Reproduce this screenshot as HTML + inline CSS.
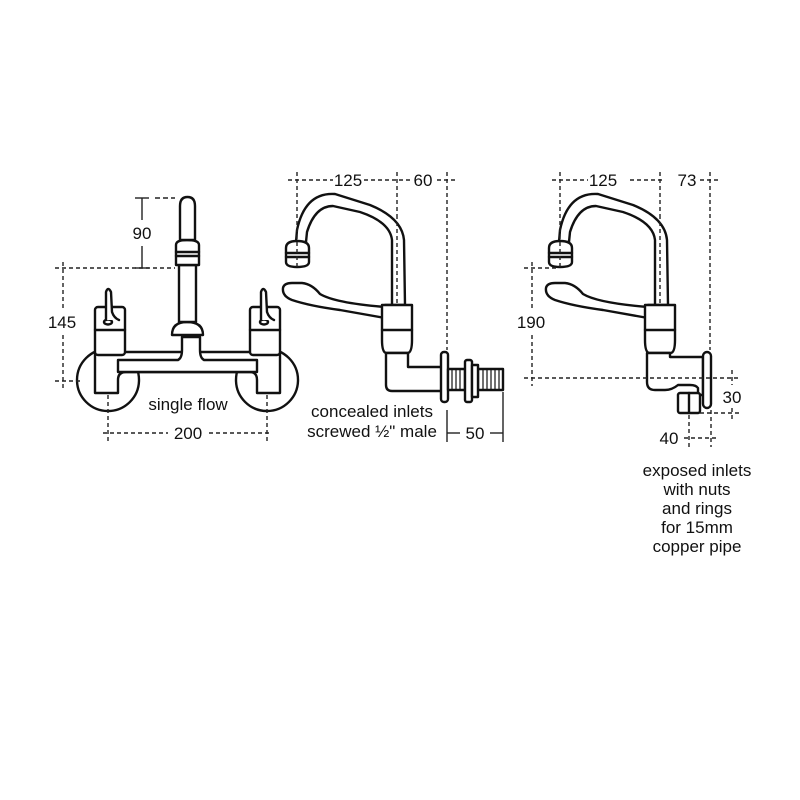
<!DOCTYPE html>
<html><head><meta charset="utf-8"><style>
html,body{margin:0;padding:0;background:#fff;width:800px;height:800px;overflow:hidden}
svg{display:block}
text{font-family:"Liberation Sans",Arial,sans-serif;fill:#111;font-size:17px}
.o{fill:#fff;stroke:#111;stroke-width:2.4;stroke-linejoin:round;stroke-linecap:round}
.n{fill:none;stroke:#111;stroke-width:2.4;stroke-linejoin:round;stroke-linecap:round}
.d{fill:none;stroke:#222;stroke-width:1.4;stroke-dasharray:4 3}
.s{fill:none;stroke:#222;stroke-width:1.4}
</style></head><body>
<svg width="800" height="800" viewBox="0 0 800 800">
<!-- LEFT TAP -->
<circle class="o" cx="108" cy="380" r="31"/>
<circle class="o" cx="267" cy="380" r="31"/>
<path class="o" d="M95 352 L95 393 L118 393 L118 380 Q118 372 126 372 L250 372 Q257 372 257 380 L257 393 L280 393 L280 352 Z"/>
<path class="o" d="M118 360 L178 360 Q182 358 182 350 L182 337 L200 337 L200 350 Q200 358 204 360 L257 360 L257 372 L118 372 Z"/>
<rect class="o" x="95" y="307" width="30" height="48" rx="3"/>
<line class="n" x1="95" y1="330" x2="125" y2="330"/>
<ellipse class="n" cx="108" cy="322" rx="4" ry="2.5"/>
<path class="o" d="M106 320 L106 292 Q108 286 111 292 L112 312 Q114 318 119 320"/>
<rect class="o" x="250" y="307" width="30" height="48" rx="3"/>
<line class="n" x1="250" y1="330" x2="280" y2="330"/>
<ellipse class="n" cx="264" cy="322" rx="4" ry="2.5"/>
<path class="o" d="M261 320 L261 292 Q263 286 266 292 L267 312 Q269 318 274 320"/>
<path class="o" d="M172 335 Q172 322 187 322 Q203 322 203 335 Z"/>
<rect class="o" x="179" y="265" width="17" height="57"/>
<path class="o" d="M176 245 Q176 240 187 240 Q199 240 199 245 L199 265 L176 265 Z"/>
<line class="n" x1="176" y1="252" x2="199" y2="252"/>
<line class="n" x1="176" y1="256" x2="199" y2="256"/>
<path class="o" d="M180 240 L180 206 Q180 197 187.5 197 Q195 197 195 206 L195 240 Z"/>
<!-- left dims -->
<line class="s" x1="142" y1="198" x2="142" y2="220"/><line class="s" x1="142" y1="246" x2="142" y2="268"/>
<line class="s" x1="135" y1="198" x2="149" y2="198"/><line class="s" x1="155" y1="198" x2="175" y2="198" stroke-dasharray="5 3"/>
<line class="d" x1="55" y1="268" x2="175" y2="268"/><line class="s" x1="135" y1="268" x2="149" y2="268"/>
<text x="142" y="239" text-anchor="middle">90</text>
<line class="d" x1="63" y1="262" x2="63" y2="308"/><line class="d" x1="63" y1="335" x2="63" y2="390"/>
<line class="d" x1="55" y1="381" x2="82" y2="381"/>
<text x="62" y="328" text-anchor="middle">145</text>
<line class="d" x1="108" y1="395" x2="108" y2="442"/><line class="d" x1="267" y1="395" x2="267" y2="442"/>
<line class="d" x1="103" y1="433" x2="168" y2="433"/><line class="d" x1="209" y1="433" x2="272" y2="433"/>
<text x="188" y="439" text-anchor="middle">200</text>
<text x="188" y="410" text-anchor="middle">single flow</text>

<defs>
<g id="tap">
<path class="o" d="M385 305 L392 305 L392 240 Q390 222 360 212 L333 206 Q315 206 307 232 L306 242 L296 242 L297 230 Q305 192 335 194 L370 205 Q402 218 404 240 L405 305 Z"/>
<path class="o" d="M286 248 Q286 241 297 241 Q309 241 309 248 L309 262 Q309 267 297 267 Q286 267 286 262 Z"/>
<line class="n" x1="286" y1="253" x2="309" y2="253"/><line class="n" x1="286" y1="257" x2="309" y2="257"/>
<path class="o" d="M385 318 L340 310 Q310 306 292 300 Q282 296 283 288 Q284 283 292 283 L302 283 Q312 284 320 294 Q335 303 385 307 Z"/>
<path class="o" d="M382 305 L412 305 L412 340 Q412 352 408 353 L386 353 Q382 352 382 340 Z"/>
<line class="n" x1="382" y1="330" x2="412" y2="330"/>
<line class="d" x1="397" y1="215" x2="397" y2="304"/>
</g>
</defs>
<use href="#tap"/>
<path class="o" d="M386 353 L386 385 Q386 391 392 391 L442 391 L442 367 L408 367 L408 353 Z"/>
<rect class="o" x="441" y="352" width="7" height="50" rx="3"/>
<rect class="o" x="448" y="369" width="17" height="21"/>
<rect class="o" x="478" y="369" width="25" height="21"/>
<g stroke="#111" stroke-width="1.2">
<line x1="452" y1="369" x2="452" y2="390"/><line x1="456" y1="369" x2="456" y2="390"/><line x1="460" y1="369" x2="460" y2="390"/>
<line x1="483" y1="369" x2="483" y2="390"/><line x1="487" y1="369" x2="487" y2="390"/><line x1="491" y1="369" x2="491" y2="390"/><line x1="495" y1="369" x2="495" y2="390"/><line x1="499" y1="369" x2="499" y2="390"/>
</g>
<rect class="o" x="465" y="360" width="7" height="42" rx="2"/>
<rect class="o" x="472" y="365" width="6" height="32"/>
<line class="d" x1="288" y1="180" x2="333" y2="180"/><line class="d" x1="364" y1="180" x2="410" y2="180"/><line class="d" x1="437" y1="180" x2="455" y2="180"/>
<text x="348" y="186" text-anchor="middle">125</text><text x="423" y="186" text-anchor="middle">60</text>
<line class="d" x1="297" y1="172" x2="297" y2="270"/>
<line class="d" x1="397" y1="172" x2="397" y2="215"/>
<line class="d" x1="447" y1="172" x2="447" y2="350"/>
<line class="s" x1="447" y1="410" x2="447" y2="442"/><line class="s" x1="503" y1="392" x2="503" y2="442"/>
<line class="s" x1="447" y1="433" x2="460" y2="433"/><line class="s" x1="490" y1="433" x2="503" y2="433"/>
<text x="475" y="439" text-anchor="middle">50</text>
<text x="372" y="417" text-anchor="middle">concealed inlets</text>
<text x="372" y="437" text-anchor="middle">screwed ½" male</text>

<use href="#tap" transform="translate(263,0)"/>
<path class="o" d="M647 353 L647 382 Q647 390 655 390 L665 390 Q672 390 678 385 L690 385 Q696 385 698 388 L698 395 L703 395 L703 357 L670 357 L670 353 Z"/>
<rect class="o" x="703" y="352" width="8" height="56" rx="4"/>
<rect class="o" x="678" y="393" width="22" height="20" rx="2"/>
<line class="n" x1="689" y1="393" x2="689" y2="413"/>
<line class="d" x1="552" y1="180" x2="588" y2="180"/><line class="d" x1="630" y1="180" x2="665" y2="180"/><line class="d" x1="700" y1="180" x2="718" y2="180"/>
<text x="603" y="186" text-anchor="middle">125</text><text x="687" y="186" text-anchor="middle">73</text>
<line class="d" x1="560" y1="172" x2="560" y2="270"/>
<line class="d" x1="660" y1="172" x2="660" y2="215"/>
<line class="d" x1="710" y1="172" x2="710" y2="350"/>
<line class="d" x1="524" y1="268" x2="556" y2="268"/>
<line class="d" x1="532" y1="262" x2="532" y2="308"/><line class="d" x1="532" y1="335" x2="532" y2="386"/>
<text x="531" y="328" text-anchor="middle">190</text>
<line class="d" x1="524" y1="378" x2="740" y2="378"/>
<line class="d" x1="700" y1="413" x2="740" y2="413"/>
<line class="d" x1="732" y1="370" x2="732" y2="385"/><line class="d" x1="732" y1="408" x2="732" y2="420"/>
<text x="732" y="403" text-anchor="middle">30</text>
<line class="d" x1="689" y1="415" x2="689" y2="447"/><line class="d" x1="711" y1="410" x2="711" y2="447"/>
<line class="d" x1="684" y1="438" x2="716" y2="438"/>
<text x="669" y="444" text-anchor="middle">40</text>
<text x="697" y="476" text-anchor="middle">exposed inlets</text>
<text x="697" y="495" text-anchor="middle">with nuts</text>
<text x="697" y="514" text-anchor="middle">and rings</text>
<text x="697" y="533" text-anchor="middle">for 15mm</text>
<text x="697" y="552" text-anchor="middle">copper pipe</text>
</svg>
</body></html>
